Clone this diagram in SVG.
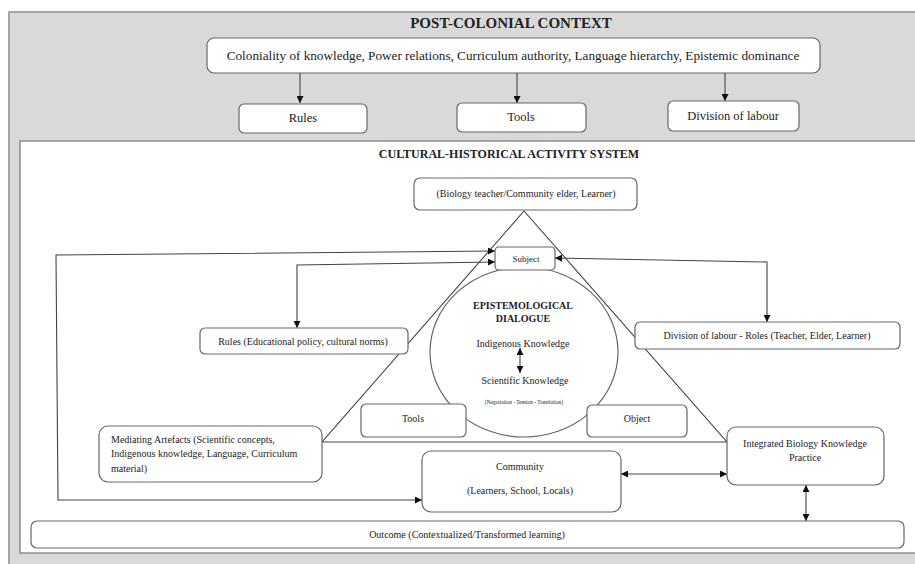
<svg xmlns="http://www.w3.org/2000/svg" width="915" height="564" viewBox="0 0 915 564">
<style>
text{font-family:"Liberation Serif","Times New Roman",serif;fill:#222;dominant-baseline:central}
.c{text-anchor:middle}
.b{font-weight:bold}
.box{fill:#fff;stroke:#666;stroke-width:1.2}
.ln{fill:none;stroke:#444;stroke-width:1.1}
.t10{font-size:10px}
.t12{font-size:12.5px}
</style>
<defs>
<marker id="ah" viewBox="0 0 10 10" refX="10" refY="5" markerWidth="7" markerHeight="7" orient="auto-start-reverse" markerUnits="userSpaceOnUse">
<path d="M0,0 L10,5 L0,10 Z" fill="#111"/>
</marker>
</defs>
<rect x="9" y="12" width="920" height="560" fill="#d9d9d9" stroke="#a6a6a6" stroke-width="2"/>
<rect x="20" y="141" width="905" height="412" fill="#fff" stroke="#8c8c8c" stroke-width="1.5"/>
<text class="c b" x="511" y="23" font-size="15">POST-COLONIAL CONTEXT</text>
<text class="c b" x="509" y="154" font-size="12">CULTURAL-HISTORICAL ACTIVITY SYSTEM</text>

<g id="triangle">
<path class="ln" d="M524,211 L322,442 L727,442 Z"/>
</g>

<g id="connectors">
<line class="ln" x1="300" y1="73" x2="300" y2="103" marker-end="url(#ah)"/>
<line class="ln" x1="517" y1="73" x2="517" y2="103" marker-end="url(#ah)"/>
<line class="ln" x1="725" y1="73" x2="725" y2="101" marker-end="url(#ah)"/>
<path class="ln" d="M495,251 L56,255 L58,500 L422,500" marker-start="url(#ah)" marker-end="url(#ah)"/>
<path class="ln" d="M495,262 L297,265 L297,328" marker-start="url(#ah)" marker-end="url(#ah)"/>
<path class="ln" d="M555,258 L767,262 L767,322" marker-start="url(#ah)" marker-end="url(#ah)"/>
<line class="ln" x1="621" y1="474" x2="727" y2="474" marker-start="url(#ah)" marker-end="url(#ah)"/>
<line class="ln" x1="806" y1="485" x2="806" y2="521" marker-start="url(#ah)" marker-end="url(#ah)"/>
</g>

<g id="coloniality">
<rect class="box" x="207" y="38" width="613" height="35" rx="7"/>
<text class="c" x="513" y="55" font-size="13.2">Coloniality of knowledge, Power relations, Curriculum authority, Language hierarchy, Epistemic dominance</text>
</g>
<g id="rules-top">
<rect class="box" x="239" y="104" width="128" height="29" rx="5"/>
<text class="c t12" x="303" y="118">Rules</text>
</g>
<g id="tools-top">
<rect class="box" x="457" y="103" width="129" height="29" rx="5"/>
<text class="c t12" x="521" y="117">Tools</text>
</g>
<g id="division-top">
<rect class="box" x="668" y="101" width="131" height="30" rx="5"/>
<text class="c t12" x="733" y="116">Division of labour</text>
</g>

<g id="dialogue">
<ellipse cx="524" cy="352" rx="94" ry="85" fill="#fff" stroke="#666" stroke-width="1.2"/>
<text class="c b t10" x="523" y="305">EPISTEMOLOGICAL</text>
<text class="c b t10" x="523" y="318">DIALOGUE</text>
<text class="c t10" x="523" y="343">Indigenous Knowledge</text>
<text class="c t10" x="525" y="380">Scientific Knowledge</text>
<text class="c" x="524" y="402" font-size="5.3">(Negotiation - Tension - Translation)</text>
<line class="ln" x1="520" y1="348" x2="520" y2="373" marker-start="url(#ah)" marker-end="url(#ah)"/>
</g>

<g id="subject-roles">
<rect class="box" x="414" y="178" width="223" height="32" rx="6"/>
<text class="c t10" x="526" y="193">(Biology teacher/Community elder, Learner)</text>
</g>
<g id="subject">
<rect class="box" x="495" y="247" width="60" height="23" rx="4"/>
<text class="c" x="526" y="259" font-size="9">Subject</text>
</g>
<g id="rules">
<rect class="box" x="200" y="328" width="208" height="26" rx="5"/>
<text class="c t10" x="303" y="341">Rules (Educational policy, cultural norms)</text>
</g>
<g id="division">
<rect class="box" x="635" y="322" width="265" height="27" rx="5"/>
<text class="c t10" x="767" y="335">Division of labour - Roles (Teacher, Elder, Learner)</text>
</g>
<g id="tools">
<rect class="box" x="361" y="404" width="105" height="33" rx="5"/>
<text class="c t10" x="413" y="418">Tools</text>
</g>
<g id="object">
<rect class="box" x="587" y="405" width="100" height="32" rx="5"/>
<text class="c t10" x="637" y="418">Object</text>
</g>
<g id="mediating">
<rect class="box" x="99" y="426" width="223" height="56" rx="9"/>
<text class="t10" x="111" y="439">Mediating Artefacts (Scientific concepts,</text>
<text class="t10" x="111" y="453">Indigenous knowledge, Language, Curriculum</text>
<text class="t10" x="111" y="468">material)</text>
</g>
<g id="community">
<rect class="box" x="422" y="451" width="199" height="61" rx="9"/>
<text class="c t10" x="520" y="466">Community</text>
<text class="c t10" x="520" y="490">(Learners, School, Locals)</text>
</g>
<g id="integrated">
<rect class="box" x="727" y="427" width="157" height="58" rx="9"/>
<text class="c t10" x="805" y="443">Integrated Biology Knowledge</text>
<text class="c t10" x="805" y="457">Practice</text>
</g>
<g id="outcome">
<rect class="box" x="31" y="521" width="873" height="27" rx="6"/>
<text class="c t10" x="467" y="534">Outcome (Contextualized/Transformed learning)</text>
</g>
</svg>
